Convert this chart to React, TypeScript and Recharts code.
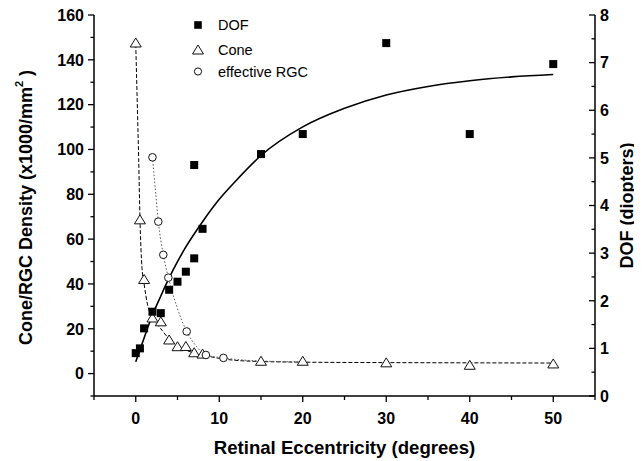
import React from 'react';
import { ComposedChart, Line, Scatter, XAxis, YAxis, Legend } from 'recharts';

const FONT = '"Liberation Sans", Arial, Helvetica, sans-serif';

// Measured depth of focus (diopters, right axis)
const dofEcc = [0, 0.5, 1, 2, 3, 4, 5, 6, 7, 8, 7, 15, 20, 30, 40, 50];
const dofVal = [0.9, 1.0, 1.42, 1.77, 1.74, 2.23, 2.4, 2.61, 2.89, 3.51, 4.85, 5.08, 5.5, 7.41, 5.5, 6.97];

// Cone density (x1000/mm^2, left axis)
const coneEcc = [0, 0.5, 1, 2, 3, 4, 5, 6, 7, 8, 15, 20, 30, 40, 50];
const coneVal = [147.5, 68.6, 42, 24.8, 23.1, 15, 12, 12.1, 9.3, 8.7, 5.5, 5.5, 4.8, 3.7, 4.3];

// Effective RGC density (x1000/mm^2, left axis)
const rgcEcc = [2.0, 2.7, 3.3, 3.9, 6.1, 8.4, 10.5];
const rgcVal = [96.5, 67.8, 53, 42.8, 18.8, 8.3, 7.0];

// Fitted curves
const dofFitEcc = [0, 1, 2, 3, 4, 5, 6, 8, 10, 12, 15, 20, 25, 30, 35, 40, 45, 50];
const dofFitVal = [0.72, 1.22, 1.7, 2.1, 2.48, 2.82, 3.13, 3.66, 4.13, 4.52, 5.05, 5.65, 6.04, 6.32, 6.5, 6.62, 6.7, 6.75];

const coneFitEcc = [0, 0.2, 0.35, 0.5, 0.75, 1, 1.4, 2, 3, 4, 5, 6, 7, 8.5, 10, 12, 15, 20, 30, 40, 50];
const coneFitVal = [147, 118, 96, 70, 47, 40, 31, 25, 20, 15.5, 12.5, 10.5, 9.2, 7.9, 6.8, 5.9, 5.4, 5.1, 4.9, 4.8, 4.7];

const rgcFitEcc = [2.0, 2.4, 2.7, 3.3, 3.9, 4.9, 6.1, 7.3, 8.4, 10.5, 13, 16, 20];
const rgcFitVal = [96.6, 80, 68, 53, 43, 30, 18.8, 12, 8.3, 7.0, 6.0, 5.5, 5.2];

// Axis ticks (all ticks) and the labelled subset
const eccTicks = [-5, 0, 5, 10, 15, 20, 25, 30, 35, 40, 45, 50, 55];
const eccLabels = [0, 10, 20, 30, 40, 50];
const densityTicks = [-10, 0, 10, 20, 30, 40, 50, 60, 70, 80, 90, 100, 110, 120, 130, 140, 150, 160];
const densityLabels = [0, 20, 40, 60, 80, 100, 120, 140, 160];
const dofTicks = [0, 0.5, 1, 1.5, 2, 2.5, 3, 3.5, 4, 4.5, 5, 5.5, 6, 6.5, 7, 7.5, 8];
const dofLabels = [0, 1, 2, 3, 4, 5, 6, 7, 8];

const legendNames = ['DOF', 'Cone', 'effective RGC'];

const zip = (xs: number[], ys: number[]) => xs.map((x, i) => ({ x, y: ys[i] }));

const dofData = zip(dofEcc, dofVal);
const coneData = zip(coneEcc, coneVal);
const rgcData = zip(rgcEcc, rgcVal);
const dofFit = zip(dofFitEcc, dofFitVal);
const coneFit = zip(coneFitEcc, coneFitVal);
const rgcFit = zip(rgcFitEcc, rgcFitVal);

const tickText = {
  fontFamily: FONT,
  fontWeight: 'bold' as const,
  fontSize: 16,
  fill: '#000',
};

function BottomTick(props: any) {
  const { x, y, payload } = props;
  const v = payload.value;
  const major = eccLabels.includes(v);
  const len = major ? 6 : 4;
  return (
    <g>
      <line x1={x} x2={x} y1={y} y2={y + len} stroke="#000" strokeWidth={1.3} />
      {major && (
        <text x={x} y={y + 28} textAnchor="middle" {...tickText}>
          {v}
        </text>
      )}
    </g>
  );
}

function LeftTick(props: any) {
  const { x, y, payload } = props;
  const v = payload.value;
  const major = densityLabels.includes(v);
  const len = major ? 6 : 3.5;
  return (
    <g>
      <line x1={x - len} x2={x} y1={y} y2={y} stroke="#000" strokeWidth={1.3} />
      {major && (
        <text x={x - 10} y={y + 5.8} textAnchor="end" {...tickText}>
          {v}
        </text>
      )}
    </g>
  );
}

function RightTick(props: any) {
  const { x, y, payload } = props;
  const v = payload.value;
  const major = dofLabels.includes(v);
  const len = major ? 6 : 3.5;
  return (
    <g>
      <line x1={x - len} x2={x} y1={y} y2={y} stroke="#000" strokeWidth={1.3} />
      {major && (
        <text x={x + 5} y={y + 5.8} textAnchor="start" {...tickText}>
          {v}
        </text>
      )}
    </g>
  );
}

const titleText = {
  fontFamily: FONT,
  fontWeight: 'bold' as const,
  fontSize: 18,
  fill: '#000',
};

function BottomTitle(props: any) {
  const vb = props.viewBox || { x: 86, y: 388, width: 501, height: 30 };
  const cx = vb.x + vb.width / 2;
  return (
    <text x={cx} y={vb.y + 58} textAnchor="middle" {...titleText} fontSize={18.6}>
      Retinal Eccentricity (degrees)
    </text>
  );
}

function LeftTitle(props: any) {
  const vb = props.viewBox || { x: 26, y: 7, width: 60, height: 381 };
  const cx = vb.x - 8;
  const cy = vb.y + vb.height / 2 + 2;
  return (
    <text
      x={cx}
      y={cy}
      transform={`rotate(-90, ${cx}, ${cy})`}
      textAnchor="middle"
      dominantBaseline="central"
      {...titleText}
    >
      <tspan>Cone/RGC Density (x1000/mm</tspan>
      <tspan dy={-7} fontSize={11}>2</tspan>
      <tspan dy={7}> )</tspan>
    </text>
  );
}

function RightTitle(props: any) {
  const vb = props.viewBox || { x: 587, y: 7, width: 30, height: 381 };
  const cx = vb.x + 32;
  const cy = vb.y + vb.height / 2;
  return (
    <text
      x={cx}
      y={cy}
      transform={`rotate(-90, ${cx}, ${cy})`}
      textAnchor="middle"
      dominantBaseline="central"
      {...titleText}
    >
      DOF (diopters)
    </text>
  );
}

const SquareMark = (p: any) => (
  <rect x={p.cx - 4} y={p.cy - 4} width={8} height={8} fill="#000" />
);

const TriangleMark = (p: any) => (
  <polygon
    points={`${p.cx},${p.cy - 5} ${p.cx - 5.5},${p.cy + 4} ${p.cx + 5.5},${p.cy + 4}`}
    fill="#fff"
    stroke="#111"
    strokeWidth={1}
  />
);

const CircleMark = (p: any) => (
  <circle cx={p.cx} cy={p.cy} r={3.8} fill="#fff" stroke="#111" strokeWidth={1} />
);

function LegendBox() {
  const rows = [25 - 14, 50 - 14, 71.5 - 14];
  return (
    <svg width={140} height={72} style={{ overflow: 'visible' }}>
      <rect x={11 - 3.8} y={rows[0] - 3.8} width={7.6} height={7.6} fill="#000" />
      <polygon
        points={`11,${rows[1] - 5} 5.5,${rows[1] + 4} 16.5,${rows[1] + 4}`}
        fill="#fff"
        stroke="#111"
        strokeWidth={1}
      />
      <circle cx={11} cy={rows[2]} r={3.6} fill="#fff" stroke="#111" strokeWidth={1} />
      {legendNames.map((n, i) => (
        <text
          key={n}
          x={31}
          y={rows[i] + 5}
          fontFamily={FONT}
          fontSize={14.5}
          fill="#000"
        >
          {n}
        </text>
      ))}
    </svg>
  );
}

export default function App() {
  return (
    <div style={{ width: 634, height: 453, fontFamily: FONT }}>
      <ComposedChart
        width={634}
        height={453}
        margin={{ top: 7, right: 17, bottom: 35, left: 26 }}
      >
        <XAxis
          xAxisId={0}
          type="number"
          dataKey="x"
          domain={[-5, 55]}
          allowDataOverflow
          ticks={eccTicks}
          interval={0}
          tickSize={0}
          tickMargin={0}
          tickLine={false}
          tick={<BottomTick />}
          axisLine={{ stroke: '#000', strokeWidth: 1.5 }}
          height={30}
          label={BottomTitle}
        />
        <YAxis
          yAxisId="left"
          orientation="left"
          type="number"
          dataKey="y"
          domain={[-10, 160]}
          allowDataOverflow
          ticks={densityTicks}
          interval={0}
          tickSize={0}
          tickMargin={0}
          tickLine={false}
          tick={<LeftTick />}
          axisLine={{ stroke: '#000', strokeWidth: 1.5 }}
          width={60}
          label={LeftTitle}
        />
        <YAxis
          yAxisId="right"
          orientation="right"
          type="number"
          dataKey="y"
          domain={[0, 8]}
          allowDataOverflow
          ticks={dofTicks}
          interval={0}
          tickSize={0}
          tickMargin={0}
          tickLine={false}
          tick={<RightTick />}
          axisLine={{ stroke: '#000', strokeWidth: 1.5 }}
          width={30}
          label={RightTitle}
        />
        <Legend
          layout="vertical"
          align="center"
          verticalAlign="middle"
          content={() => <LegendBox />}
          wrapperStyle={{ position: 'absolute', left: 179, top: 6, width: 140, height: 72 }}
        />
        <Line
          yAxisId="left"
          data={coneFit}
          dataKey="y"
          type="monotone"
          stroke="#000"
          strokeWidth={1}
          strokeDasharray="4 2"
          dot={false}
          activeDot={false}
          legendType="none"
          isAnimationActive={false}
        />
        <Line
          yAxisId="left"
          data={rgcFit}
          dataKey="y"
          type="monotone"
          stroke="#555"
          strokeWidth={1}
          strokeDasharray="1.5 2"
          dot={false}
          activeDot={false}
          legendType="none"
          isAnimationActive={false}
        />
        <Line
          yAxisId="right"
          data={dofFit}
          dataKey="y"
          type="monotone"
          stroke="#000"
          strokeWidth={1.6}
          dot={false}
          activeDot={false}
          legendType="none"
          isAnimationActive={false}
        />
        <Scatter
          name="Cone"
          yAxisId="left"
          data={coneData}
          dataKey="y"
          shape={TriangleMark}
          isAnimationActive={false}
        />
        <Scatter
          name="effective RGC"
          yAxisId="left"
          data={rgcData}
          dataKey="y"
          shape={CircleMark}
          isAnimationActive={false}
        />
        <Scatter
          name="DOF"
          yAxisId="right"
          data={dofData}
          dataKey="y"
          shape={SquareMark}
          isAnimationActive={false}
        />
      </ComposedChart>
    </div>
  );
}
